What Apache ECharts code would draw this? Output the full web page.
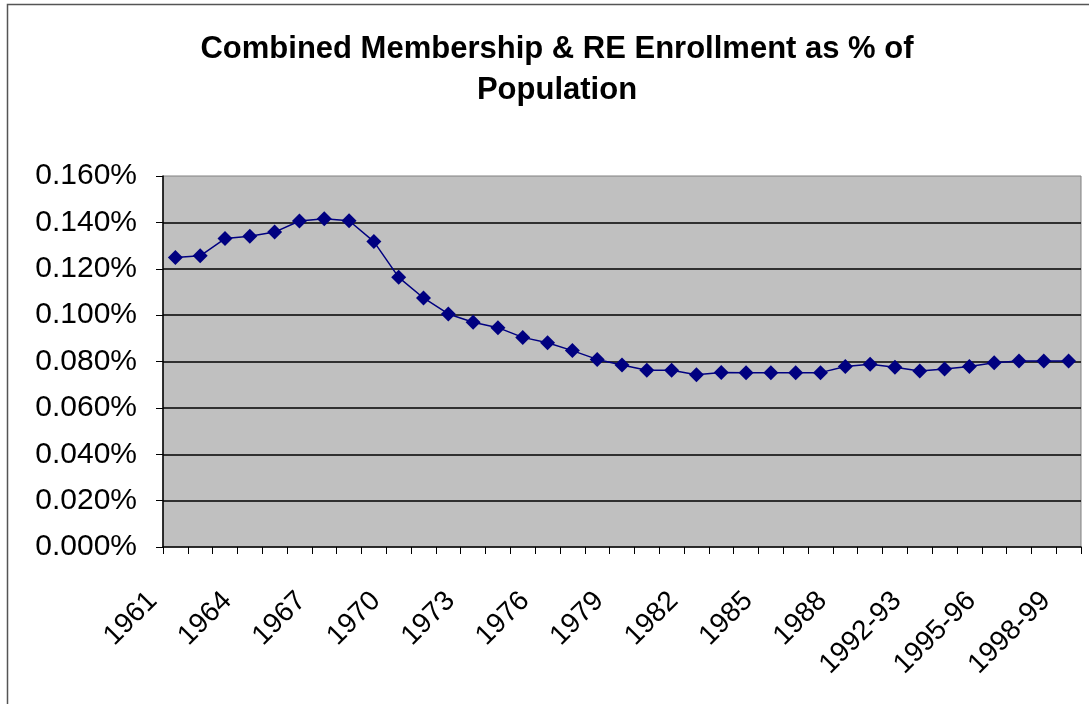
<!DOCTYPE html>
<html>
<head>
<meta charset="utf-8">
<script src="https://cdn.jsdelivr.net/npm/echarts@6/dist/echarts.min.js"></script>
<style>
html,body{margin:0;padding:0;background:#fff;}
#chart{width:1089px;height:704px;}
</style>
</head>
<body>
<div id="chart"></div>
<script>
const titleText = 'Combined Membership & RE Enrollment as % of\nPopulation';
const categories = ['1961','1962','1963','1964','1965','1966','1967','1968','1969','1970',
  '1971','1972','1973','1974','1975','1976','1977','1978','1979','1980',
  '1981','1982','1983','1984','1985','1986','1987','1988','1989-90','1990-91',
  '1992-93','1993-94','1994-95','1995-96','1996-97','1997-98','1998-99'];
const values = [0.1249,0.1256,0.1330,0.1340,0.1358,0.1406,0.1416,0.1407,0.1317,0.1163,
  0.1074,0.1005,0.0969,0.0946,0.0904,0.0881,0.0847,0.0809,0.0785,0.0762,
  0.0762,0.0743,0.0753,0.0752,0.0752,0.0752,0.0752,0.0778,0.0788,0.0775,
  0.0759,0.0768,0.0778,0.0795,0.0802,0.0802,0.0802];
const yTicks = {min:0, max:0.16, interval:0.02};

const chart = echarts.init(document.getElementById('chart'), null, {renderer:'canvas'});
chart.setOption({
  animation:false,
  backgroundColor:'#ffffff',
  graphic:[{
    type:'rect', silent:true, z:-1,
    shape:{x:7.5,y:4.5,width:1100,height:720},
    style:{fill:'none',stroke:'#555',lineWidth:1.5}
  }],
  title:{
    text:titleText,
    left:552, top:24, textAlign:'center',
    textStyle:{fontFamily:'Liberation Sans',fontWeight:'bold',fontSize:31,lineHeight:41,color:'#000'}
  },
  grid:{left:163,top:176,right:8,bottom:157,show:true,backgroundColor:'#c0c0c0',borderColor:'#808080',borderWidth:1},
  xAxis:{
    type:'category', data:categories, boundaryGap:true,
    axisLine:{show:true,lineStyle:{color:'#000',width:1.5}},
    axisTick:{show:true,interval:0,length:7,lineStyle:{color:'#000',width:1}},
    axisLabel:{interval:2,rotate:45,margin:27,padding:[0,32,0,0],fontFamily:'Liberation Sans',fontSize:28,color:'#000'},
    splitLine:{show:false}
  },
  yAxis:{
    type:'value', min:yTicks.min, max:yTicks.max, interval:yTicks.interval,
    axisLine:{show:true,lineStyle:{color:'#000',width:1.5}},
    axisTick:{show:true,length:7,lineStyle:{color:'#000',width:1}},
    axisLabel:{margin:26,fontFamily:'Liberation Sans',fontSize:30,color:'#000',
      formatter:v=>v.toFixed(3)+'%'},
    splitLine:{show:true,showMinLine:false,showMaxLine:false,lineStyle:{color:'#000',width:1.5}}
  },
  series:[{
    type:'line', data:values,
    symbol:'diamond', symbolSize:15,
    itemStyle:{color:'#000080'},
    lineStyle:{color:'#000080',width:1.5}
  }]
});
</script>
</body>
</html>
